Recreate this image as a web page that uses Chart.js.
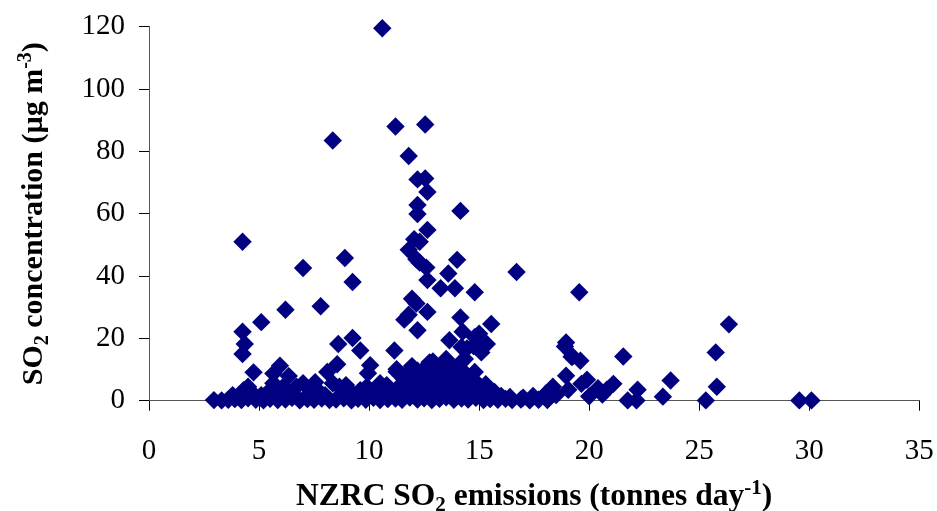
<!DOCTYPE html>
<html>
<head>
<meta charset="utf-8">
<script src="https://cdn.jsdelivr.net/npm/chart.js@4/dist/chart.umd.min.js"></script>
<style>
  html, body { margin: 0; padding: 0; background: #fff; }
  canvas { display: block; }
</style>
</head>
<body>
<canvas id="chart" width="937" height="511"></canvas>
<script>
// [emissions (tonnes/day), SO2 concentration (ug/m3)]
const highDays = [
  [10.6, 119.5], [11.2, 88], [12.55, 88.6], [8.35, 83.5], [11.8, 78.5],
  [12.2, 71], [12.55, 71.3], [12.65, 67], [12.2, 62.8], [12.2, 59.9],
  [14.15, 60.9], [12.65, 54.8], [4.25, 51], [12.05, 51.8], [12.3, 51],
  [11.8, 48.4], [8.9, 45.8], [14.0, 45.2], [12.15, 45.4], [12.3, 44.3],
  [12.6, 42.7], [7.0, 42.6], [13.6, 40.8], [16.7, 41.3], [9.25, 38.1],
  [12.65, 38.7], [13.25, 36.1], [13.9, 36.1], [14.8, 34.8], [19.55, 34.8],
  [11.95, 32.7], [12.15, 31.2], [7.8, 30.3], [6.2, 29.2], [12.65, 28.5],
  [11.8, 27.6], [11.6, 26], [14.15, 26.7], [5.1, 25.2], [15.55, 24.6],
  [26.35, 24.5], [12.2, 22.6], [4.25, 22.1], [14.25, 22.1], [15.0, 21.5]
];

const midDays = [
  [14.8, 20.4], [9.25, 20.1], [13.65, 19.4], [4.35, 18.2], [8.6, 18.2],
  [15.35, 18.2], [14.2, 17.2], [14.75, 17.5], [15.1, 15.5], [9.6, 16.1],
  [11.15, 16.1], [4.25, 15.0], [18.95, 18.7], [18.9, 17.4], [21.55, 14.2],
  [25.75, 15.5], [19.25, 14.2], [19.6, 12.8], [14.35, 13.4], [13.5, 13.4],
  [12.9, 12.6], [8.55, 11.7], [10.05, 11.4], [5.95, 11.2], [11.95, 11.1],
  [11.25, 10.1], [13.75, 11.0], [4.75, 9.1], [8.1, 9.2], [9.95, 8.8],
  [14.8, 9.2], [5.65, 8.7], [6.35, 7.9], [7.55, 5.9], [11.7, 8.5],
  [18.95, 8.0], [19.05, 3.5], [19.9, 6.7], [19.65, 5.4], [21.1, 5.4],
  [20.8, 3.5], [20.4, 4.0], [20.6, 2.0], [20.0, 1.4], [23.7, 6.5],
  [22.2, 3.5], [25.8, 4.5], [23.35, 1.3], [21.75, 0.1], [22.15, 0.1],
  [25.3, 0.1], [29.55, 0.1], [30.1, 0.1], [18.2, 2.5], [18.5, 1.8],
  [17.45, 1.5], [12.75, 12.3], [14.2, 12.5], [13.4, 9.3], [13.95, 7.2],
  [11.25, 9.3], [18.35, 4.5], [18.05, 2.4], [17.0, 1.0], [15.5, 3.4],
  [15.0, 5.0], [15.3, 5.3], [14.45, 16.8], [14.9, 17.9], [19.2, 14.1]
];

const lowDays = [
  [2.95, 0.2], [3.3, 0.1], [3.6, 0.3], [3.9, 0.5], [4.2, 0.2], [4.5, 0.8],
  [4.85, 0.3], [5.2, 0.1], [5.5, 0.6], [5.85, 0.2], [6.2, 0.4], [6.5, 0.9],
  [6.85, 0.1], [7.2, 0.5], [7.5, 0.3], [7.85, 0.7], [8.2, 0.2], [8.5, 0.4],
  [8.85, 0.8], [9.2, 0.1], [9.5, 0.6], [9.85, 0.3], [10.2, 0.9], [10.5, 0.2],
  [10.85, 0.5], [11.2, 0.7], [11.5, 0.3], [11.85, 1.0], [12.2, 0.4], [12.5, 0.8],
  [12.85, 0.2], [13.2, 0.6], [13.5, 1.1], [13.85, 0.3], [14.2, 0.7], [14.5, 0.4],
  [14.85, 0.9], [15.2, 0.2], [15.5, 0.5], [15.85, 0.3], [16.2, 0.6], [16.5, 0.2],
  [16.9, 0.4], [17.3, 0.1], [17.7, 0.3], [18.1, 0.2]
];

const clusterDays = [
  [3.8, 1.8], [4.3, 3.4], [4.5, 4.5], [4.7, 2.5], [5.1, 1.8], [5.5, 3.4],
  [5.65, 5.6], [6.1, 4.5], [6.0, 2.2], [6.7, 4.5], [7.0, 5.6], [6.4, 1.5],
  [7.3, 2.4], [7.7, 3.2], [8.0, 1.8], [8.35, 5.6], [8.65, 4.5], [8.95, 5.0],
  [8.8, 2.6], [9.3, 1.9], [9.6, 3.4], [9.9, 4.5], [10.2, 2.2], [10.5, 5.6],
  [10.8, 5.0], [10.65, 2.8], [11.0, 1.7], [11.3, 3.5], [11.5, 5.5], [11.7, 2.4],
  [11.9, 4.3], [12.1, 6.2], [12.3, 2.0], [12.4, 4.8], [12.6, 7.5], [12.75, 3.2],
  [12.9, 5.6], [13.0, 9.0], [13.1, 2.4], [13.2, 7.0], [13.35, 4.4], [13.5, 1.8],
  [13.6, 6.3], [13.75, 3.6], [13.9, 8.5], [14.0, 2.5], [14.1, 5.2], [14.3, 3.8],
  [14.45, 6.5], [14.6, 1.8], [14.7, 4.0], [14.95, 2.6], [15.2, 3.2], [15.45, 1.9],
  [15.7, 2.8], [16.0, 1.5], [16.4, 1.2], [12.0, 8.0], [12.5, 10.2], [13.3, 11.0],
  [12.2, 9.6], [13.7, 8.0], [11.6, 7.0], [14.2, 9.8], [12.45, 8.8], [12.85, 9.5],
  [13.25, 8.2], [13.65, 9.6], [14.05, 7.8], [14.4, 8.6], [12.1, 5.0], [12.7, 5.8],
  [13.0, 6.8], [13.45, 5.4], [13.85, 5.9], [14.25, 6.8]
];

const xTicks = { min: 0, max: 35, step: 5 };
const yTicks = { min: 0, max: 120, step: 20 };

const xTitle = [
  { text: 'NZRC SO' }, { text: '2', sub: true },
  { text: ' emissions (tonnes day' }, { text: '-1', sup: true }, { text: ')' }
];
const yTitle = [
  { text: 'SO' }, { text: '2', sub: true },
  { text: ' concentration (\u00b5g m' }, { text: '-3', sup: true }, { text: ')' }
];

const FAMILY = '"Liberation Serif", "Times New Roman", serif';

function partFont(p, size) {
  const s = (p.sub || p.sup) ? Math.round(size * 0.66) : size;
  return 'bold ' + s + 'px ' + FAMILY;
}

function drawRich(ctx, parts, x, y, size) {
  let total = 0;
  parts.forEach(p => { ctx.font = partFont(p, size); total += ctx.measureText(p.text).width; });
  let cx = x - total / 2;
  parts.forEach(p => {
    ctx.font = partFont(p, size);
    let dy = 0;
    if (p.sub) dy = size * 0.2;
    if (p.sup) dy = -size * 0.36;
    ctx.fillText(p.text, cx, y + dy);
    cx += ctx.measureText(p.text).width;
  });
}

const axisTitles = {
  id: 'axisTitles',
  afterDraw(chart) {
    const ctx = chart.ctx;
    const area = chart.chartArea;
    ctx.save();
    ctx.fillStyle = '#000';
    ctx.textBaseline = 'alphabetic';
    ctx.textAlign = 'left';
    drawRich(ctx, xTitle, (area.left + area.right) / 2, 505, 31.5);
    ctx.translate(42, (area.top + area.bottom) / 2);
    ctx.rotate(-Math.PI / 2);
    drawRich(ctx, yTitle, 0, 0, 30);
    ctx.restore();
  }
};

const tickFont = { family: FAMILY, size: 29 };

const ctx = document.getElementById('chart').getContext('2d');
new Chart(ctx, {
  type: 'scatter',
  data: {
    datasets: [{
      data: [...lowDays, ...clusterDays, ...midDays, ...highDays].map(d => ({ x: d[0], y: d[1] })),
      pointStyle: 'rectRot',
      pointRadius: 9.2,
      borderWidth: 0,
      backgroundColor: '#000080',
      borderColor: '#000080',
      clip: false
    }]
  },
  options: {
    responsive: false,
    animation: false,
    events: [],
    layout: { autoPadding: false, padding: { top: 26.7, right: 17.7, left: 0, bottom: 0 } },
    plugins: { legend: { display: false }, tooltip: { enabled: false } },
    scales: {
      x: {
        type: 'linear',
        min: xTicks.min, max: xTicks.max,
        ticks: { stepSize: xTicks.step, color: '#000', font: tickFont, padding: 23, maxRotation: 0 },
        grid: { drawOnChartArea: false, tickLength: 10, color: '#000' },
        border: { color: '#555', width: 1 },
        afterFit: s => { s.height = 110.3; s.paddingLeft = 0; s.paddingRight = 0; }
      },
      y: {
        min: yTicks.min, max: yTicks.max,
        ticks: { stepSize: yTicks.step, color: '#000', font: tickFont, padding: 14 },
        grid: { drawOnChartArea: false, tickLength: 10, color: '#000' },
        border: { color: '#555', width: 1 },
        afterFit: s => { s.width = 149; s.paddingTop = 0; s.paddingBottom = 0; }
      }
    }
  },
  plugins: [axisTitles]
});
</script>
</body>
</html>
